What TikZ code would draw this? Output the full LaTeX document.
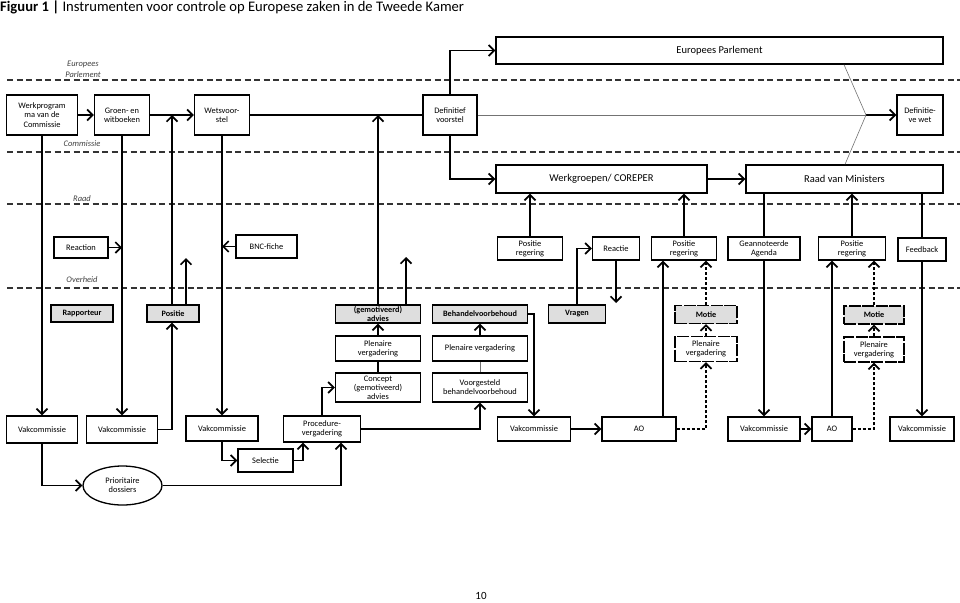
\documentclass[tikz,border=0pt]{standalone}
\usepackage{fontspec}
\setmainfont{Carlito}
\usetikzlibrary{arrows.meta,shapes.geometric,calc}
\tikzset{
  box/.style={draw, line width=1.3pt, fill=white, inner sep=0pt, align=center, font=\fontsize{8.4}{9.2}\selectfont},
  bigbox/.style={box, font=\fontsize{10.5}{12}\selectfont},
  greybox/.style={box, fill=black!13, font=\bfseries\fontsize{8.2}{8.6}\selectfont},
  dbox/.style={box, dash pattern=on 12pt off 1.5pt},
  dgreybox/.style={greybox, dash pattern=on 12pt off 1.5pt},
  arr/.style={draw, line width=1.7pt, -{Straight Barb[length=5.5pt,width=11pt]}},
  plain/.style={draw, line width=1.7pt},
  darr/.style={arr, dash pattern=on 3pt off 2pt},
  thinline/.style={draw, line width=0.6pt, black!55},
  lane/.style={draw, line width=1.3pt, dash pattern=on 6pt off 3.5pt, black!80},
  lanelabel/.style={font=\itshape\fontsize{8.5}{9}\selectfont, text=black!75},
}
\begin{document}
\begin{tikzpicture}[x=1pt,y=-1pt]
\useasboundingbox (0,0) rectangle (960,602);

% title
\node[anchor=base west, inner sep=0pt, font=\fontsize{14.6}{16}\selectfont] (title) at (0,12)
  {\textbf{Figuur 1 |} Instrumenten voor controle op Europese zaken in de Tweede Kamer};

% lanes
\draw[lane] (7,80) -- (960,80);
\draw[lane] (7,152) -- (960,152);
\draw[lane] (7,204) -- (960,204);
\draw[lane] (7,288) -- (960,288);
\node[lanelabel] (l1) at (83,64) {Europees};
\node[lanelabel] (l2) at (83,75) {Parlement};
\node[lanelabel] (l3) at (82,144) {Commissie};
\node[lanelabel] (l4) at (82,199) {Raad};
\node[lanelabel] (l5) at (82,280) {Overheid};

% Commissie row
\node[box, minimum width=71pt, minimum height=40pt] (wp) at (42,115) {Werkprogram\\ma van de\\Commissie};
\node[box, minimum width=55pt, minimum height=40pt] (gw) at (122,115) {Groen- en\\witboeken};
\node[box, minimum width=55pt, minimum height=40pt] (wv) at (222,115) {Wetsvoor-\\stel};
\node[box, minimum width=54pt, minimum height=40pt] (dv) at (450,115) {Definitief\\voorstel};
\node[bigbox, minimum width=447pt, minimum height=27pt] (ep) at (719.5,50.5) {Europees Parlement};
\node[box, minimum width=46pt, minimum height=40pt] (dw) at (920,115) {Definitie-\\ve wet};

% Raad row
\node[bigbox, minimum width=211pt, minimum height=28pt] (wg) at (601.5,179) {Werkgroepen/ COREPER};
\node[bigbox, minimum width=197pt, minimum height=28pt] (rm) at (844.5,179) {Raad van Ministers};

% Overheid row
\node[box, minimum width=54pt, minimum height=21pt] (reaction) at (81,247.5) {Reaction};
\node[box, minimum width=61pt, minimum height=23pt] (bnc) at (266.5,246.5) {BNC-fiche};
\node[box, minimum width=65pt, minimum height=23pt] (pr1) at (530,248.5) {Positie\\regering};
\node[box, minimum width=47pt, minimum height=23pt] (reactie) at (616,248.5) {Reactie};
\node[box, minimum width=65pt, minimum height=23pt] (pr2) at (684,248.5) {Positie\\regering};
\node[box, minimum width=72pt, minimum height=23pt] (ga) at (764,248.5) {Geannoteerde\\Agenda};
\node[box, minimum width=67pt, minimum height=23pt] (pr3) at (852,248.5) {Positie\\regering};
\node[box, minimum width=48pt, minimum height=23pt] (fb) at (922,249.5) {Feedback};

% Tweede Kamer grey row
\node[greybox, minimum width=62pt, minimum height=17pt] (rap) at (82,313.5) {Rapporteur};
\node[greybox, minimum width=52pt, minimum height=17pt] (pos) at (173,313.5) {Positie};
\node[greybox, minimum width=85pt, minimum height=18pt] (adv) at (378,314) {(gemotiveerd)\\advies};
\node[greybox, minimum width=95pt, minimum height=18pt] (bvb) at (480,314) {Behandelvoorbehoud};
\node[greybox, minimum width=57pt, minimum height=18pt] (vragen) at (577,314) {Vragen};
\node[dgreybox, minimum width=62pt, minimum height=18pt] (motie1) at (706,314.5) {Motie};
\node[dgreybox, minimum width=60pt, minimum height=18pt] (motie2) at (874,315) {Motie};

% Plenaire row
\node[box, minimum width=85pt, minimum height=25pt] (pv1) at (378,348.5) {Plenaire\\vergadering};
\node[box, minimum width=95pt, minimum height=25pt] (pv2) at (480,348.5) {Plenaire vergadering};
\node[dbox, minimum width=62pt, minimum height=25pt] (pv3) at (706,349) {Plenaire\\vergadering};
\node[dbox, minimum width=60pt, minimum height=25pt] (pv4) at (874,349.5) {Plenaire\\vergadering};

% Concept row
\node[box, minimum width=85pt, minimum height=29pt] (con) at (378,387.5) {Concept\\(gemotiveerd)\\advies};
\node[box, minimum width=95pt, minimum height=29pt] (vgb) at (480,387.5) {Voorgesteld\\behandelvoorbehoud};

% bottom row
\node[box, minimum width=71pt, minimum height=27pt] (vk1) at (42,429.5) {Vakcommissie};
\node[box, minimum width=71pt, minimum height=27pt] (vk2) at (122,429.5) {Vakcommissie};
\node[box, minimum width=72pt, minimum height=25pt] (vk3) at (222,428.5) {Vakcommissie};
\node[box, minimum width=77pt, minimum height=26pt] (pvg) at (322,429) {Procedure-\\vergadering};
\node[box, minimum width=73pt, minimum height=24pt] (vk4) at (534,429) {Vakcommissie};
\node[box, minimum width=74pt, minimum height=24pt] (ao1) at (639,429) {AO};
\node[box, minimum width=72pt, minimum height=24pt] (vk5) at (764,429) {Vakcommissie};
\node[box, minimum width=40pt, minimum height=24pt] (ao2) at (832,429) {AO};
\node[box, minimum width=64pt, minimum height=24pt] (vk6) at (922,429) {Vakcommissie};

\node[box, minimum width=55pt, minimum height=23pt] (sel) at (265.5,460.5) {Selectie};
\node[box, ellipse, minimum width=79pt, minimum height=39pt] (pd) at (122.5,485.5) {Prioritaire\\dossiers};

\node[inner sep=0pt, font=\fontsize{11}{12}\selectfont] (pagenr) at (481,596) {10};

% helper coordinates
\coordinate (gwwv) at (172,115);
\coordinate (posfree) at (186,258);
\coordinate (advup) at (378,115);
\coordinate (advfree) at (406,257);
\coordinate (conv) at (866,115);
\coordinate (epx) at (844,0);
\coordinate (rmx) at (845,0);
\coordinate (reactfree) at (616,303);
\coordinate (a1x) at (663,0);
\coordinate (pvgR) at (341,0);
\coordinate (pvgL) at (303,0);

% Commissie connectors
\draw[arr] (wp.east) -- (gw.west);
\draw[arr] (gw.east) -- (wv.west);
\draw[plain] (wv.east) -- (dv.west);
\draw[arr] (pos.north -| gwwv) -- (gwwv);
\draw[arr] (pos.north -| posfree) -- (posfree);
\draw[arr] (vk2.east) -| (gwwv |- pos.south);
\draw[arr] (wp.south) -- (vk1.north);
\draw[arr] (gw.south) -- (vk2.north);
\draw[arr] (reaction.east) -- (gw.south |- reaction.east);
\draw[arr] (wv.south) -- (vk3.north);
\draw[arr] (bnc.west) -- (wv.south |- bnc.west);
\draw[arr] (adv.north) -- (advup);
\draw[arr] (adv.north -| advfree) -- (advfree);
\draw[arr] (dv.north) |- (ep.west);
\draw[arr] (dv.south) |- (wg.west);
\draw[thinline] (dv.east) -- (conv);
\draw[arr] (conv) -- (dw.west);
\draw[thinline] (ep.south -| epx) -- (conv) -- (rm.north -| rmx);

% Raad connectors
\draw[arr] (wg.east) -- (rm.west);
\draw[arr] (pr1.north) -- (pr1.north |- wg.south);
\draw[arr] (pr2.north) -- (pr2.north |- wg.south);
\draw[plain] (ga.north |- rm.south) -- (ga.north);
\draw[arr] (ga.south) -- (vk5.north);
\draw[arr] (pr3.north) -- (pr3.north |- rm.south);
\draw[plain] (fb.north |- rm.south) -- (fb.north);
\draw[arr] (fb.south) -- (vk6.north);

% Overheid / Kamer connectors
\draw[arr] (vragen.north) |- (reactie.west);
\draw[arr] (reactie.south) -- (reactfree);
\draw[arr] (vk4.east) -- (ao1.west);
\draw[arr] (ao1.north -| a1x) -- (pr2.south -| a1x);
\draw[darr] (ao1.east) -| (pv3.south);
\draw[darr] (pv3.north) -- (motie1.south);
\draw[darr] (motie1.north) -- (motie1.north |- pr2.south);
\draw[arr] (vk5.east) -- (ao2.west);
\draw[arr] (ao2.north) -- (ao2.north |- pr3.south);
\draw[darr] (ao2.east) -| (pv4.south);
\draw[darr] (pv4.north) -- (motie2.south);
\draw[darr] (motie2.north) -- (motie2.north |- pr3.south);

\draw[arr] (vk1.south) |- (pd.west);
\draw[arr] (pd.east) -| (pvgR |- pvg.south);
\draw[arr] (vk3.south) |- (sel.west);
\draw[arr] (sel.east) -| (pvgL |- pvg.south);
\draw[arr] (pvg.north) |- (con.west);
\draw[arr] (pvg.east) -| (vgb.south);
\draw[plain] (con.north) -- (pv1.south);
\draw[arr] (pv1.north) -- (adv.south);
\draw[thinline] (vgb.north) -- (pv2.south);
\draw[arr] (pv2.north) -- (bvb.south);
\draw[arr] (bvb.east) -| (vk4.north);
\end{tikzpicture}
\end{document}
